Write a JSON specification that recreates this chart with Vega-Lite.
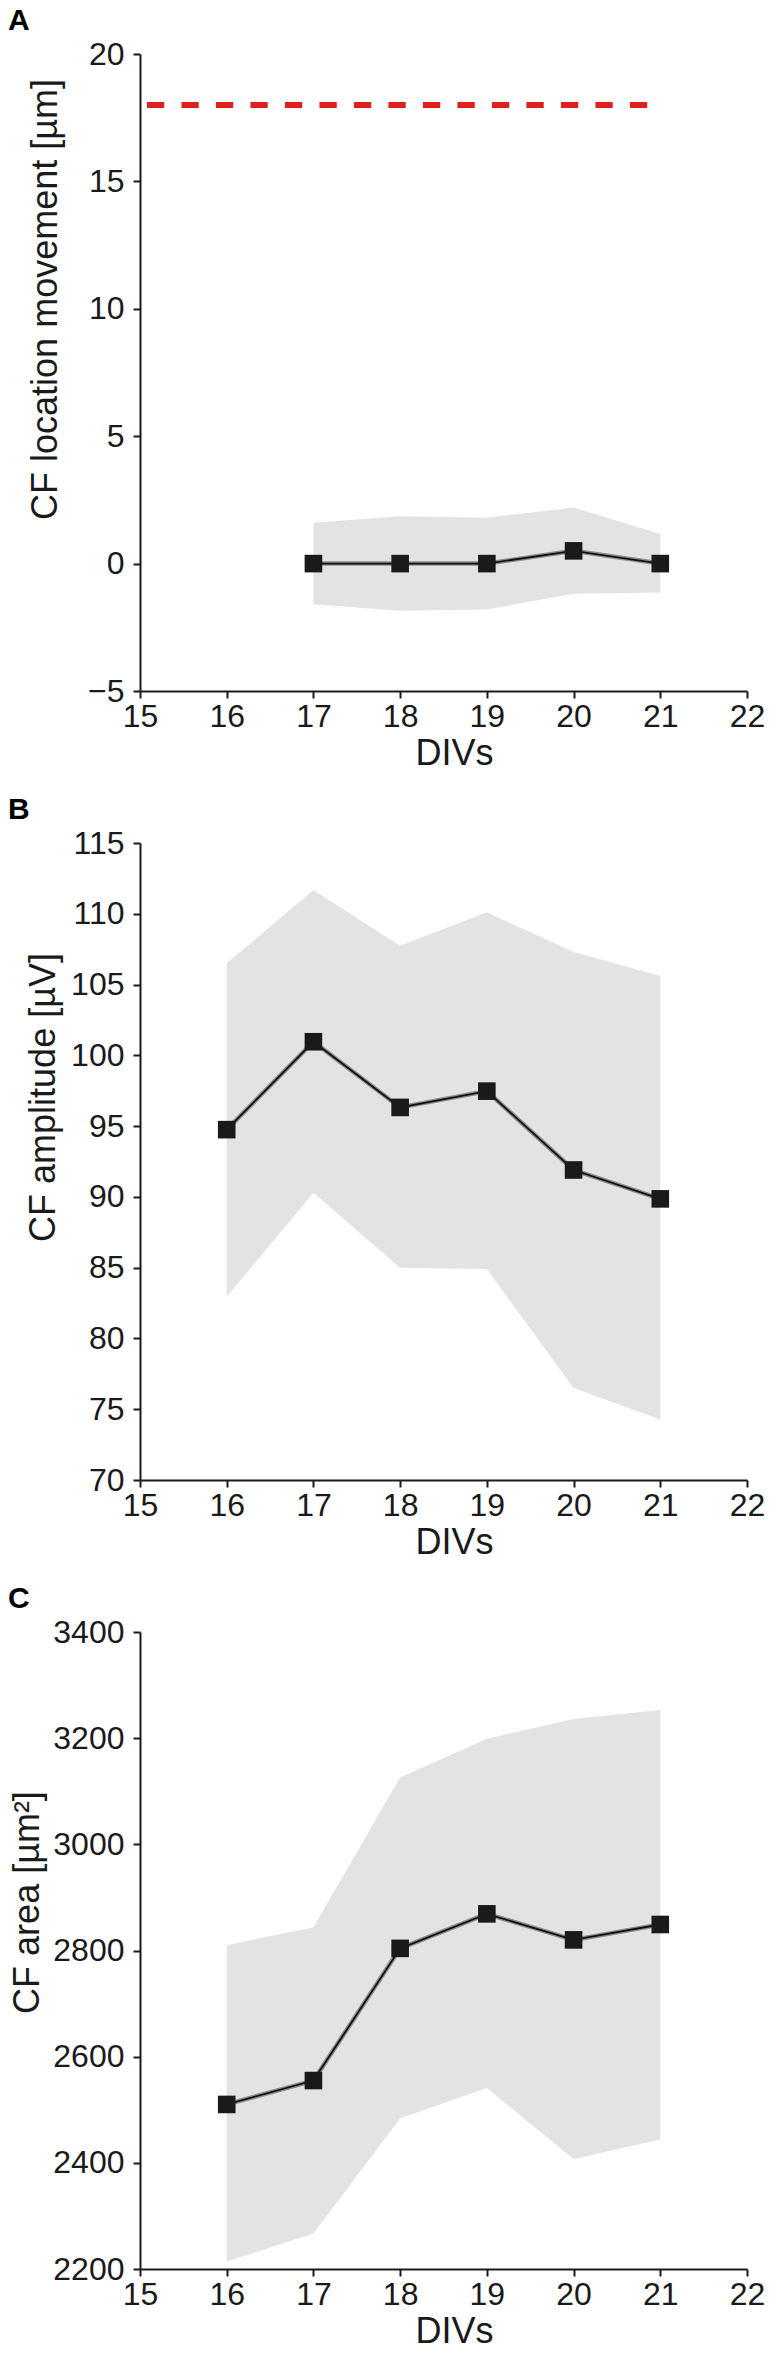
{
  "$schema": "https://vega.github.io/schema/vega-lite/v6.json",
  "background": "white",
  "padding": {"left": 8, "top": 6, "right": 0, "bottom": 0},
  "config": {
    "font": "Liberation Sans",
    "view": {"stroke": null},
    "concat": {"spacing": 24},
    "axis": {
      "grid": false,
      "domainColor": "#1a1a1a", "domainWidth": 2,
      "tickColor": "#1a1a1a", "tickWidth": 2, "tickSize": 7,
      "labelFont": "Liberation Sans", "labelFontSize": 32, "labelColor": "#1a1a1a",
      "titleFont": "Liberation Sans", "titleFontSize": 36, "titleFontWeight": "normal", "titleColor": "#1a1a1a"
    },
    "axisX": {"labelPadding": 3, "titlePadding": 4, "labelDx": 5, "titleX": 314, "labelFlush": false},
    "axisY": {"labelPadding": 9, "labelDy": -4},
    "title": {"anchor": "start", "frame": "group", "dx": -132, "fontSize": 30, "fontWeight": "bold", "font": "Liberation Sans", "color": "#000000", "offset": 2}
  },
  "datasets": {
    "A": [
      {"DIV": 17, "m": 0, "lo": -1.6, "hi": 1.6},
      {"DIV": 18, "m": 0, "lo": -1.85, "hi": 1.86},
      {"DIV": 19, "m": 0, "lo": -1.8, "hi": 1.8},
      {"DIV": 20, "m": 0.5, "lo": -1.18, "hi": 2.2},
      {"DIV": 21, "m": 0, "lo": -1.13, "hi": 1.16}
    ],
    "refA": [
      {"DIV": 15.08, "v": 18},
      {"DIV": 21, "v": 18}
    ],
    "B": [
      {"DIV": 16, "m": 94.75, "lo": 82.96, "hi": 106.5},
      {"DIV": 17, "m": 100.96, "lo": 90.29, "hi": 111.66},
      {"DIV": 18, "m": 96.32, "lo": 85.0, "hi": 107.74},
      {"DIV": 19, "m": 97.47, "lo": 84.9, "hi": 110.1},
      {"DIV": 20, "m": 91.9, "lo": 76.5, "hi": 107.3},
      {"DIV": 21, "m": 89.86, "lo": 74.27, "hi": 105.6}
    ],
    "C": [
      {"DIV": 16, "m": 2510, "lo": 2214, "hi": 2810},
      {"DIV": 17, "m": 2555, "lo": 2267, "hi": 2844},
      {"DIV": 18, "m": 2804, "lo": 2484, "hi": 3126},
      {"DIV": 19, "m": 2869, "lo": 2541, "hi": 3199},
      {"DIV": 20, "m": 2820, "lo": 2407, "hi": 3236},
      {"DIV": 21, "m": 2849, "lo": 2444, "hi": 3253}
    ]
  },
  "vconcat": [
    {
      "title": "A",
      "width": 607, "height": 637,
      "data": {"name": "A"},
      "encoding": {
        "x": {"field": "DIV", "type": "quantitative", "scale": {"domain": [15, 22], "nice": false, "zero": false}, "axis": {"title": "DIVs", "values": [15, 16, 17, 18, 19, 20, 21, 22]}},
        "y": {"field": "m", "type": "quantitative", "scale": {"domain": [-5, 20], "nice": false, "zero": false}, "axis": {"title": "CF location movement [µm]", "values": [-5, 0, 5, 10, 15, 20], "titleX": -76, "titleY": 245}}
      },
      "layer": [
        {"mark": {"type": "area", "color": "#e3e3e3"}, "encoding": {
          "y": {"field": "lo", "type": "quantitative", "scale": {"domain": [-5, 20], "nice": false, "zero": false}, "axis": {"title": "CF location movement [µm]", "values": [-5, 0, 5, 10, 15, 20], "titleX": -76, "titleY": 245}},
          "y2": {"field": "hi"}}},
        {"mark": {"type": "line", "color": "#8c8c8c", "strokeWidth": 4.5}},
        {"mark": {"type": "line", "color": "#111111", "strokeWidth": 1.8}},
        {"mark": {"type": "point", "shape": "square", "filled": true, "size": 310, "color": "#1a1a1a", "opacity": 1}},
        {"data": {"name": "refA"}, "mark": {"type": "line", "color": "#e0201e", "strokeWidth": 6, "strokeDash": [17.3, 17.2], "strokeCap": "butt"}, "encoding": {
          "y": {"field": "v", "type": "quantitative", "scale": {"domain": [-5, 20], "nice": false, "zero": false}, "axis": {"title": "CF location movement [µm]", "values": [-5, 0, 5, 10, 15, 20], "titleX": -76, "titleY": 245}}}}
      ]
    },
    {
      "title": "B",
      "width": 607, "height": 637,
      "data": {"name": "B"},
      "encoding": {
        "x": {"field": "DIV", "type": "quantitative", "scale": {"domain": [15, 22], "nice": false, "zero": false}, "axis": {"title": "DIVs", "values": [15, 16, 17, 18, 19, 20, 21, 22]}},
        "y": {"field": "m", "type": "quantitative", "scale": {"domain": [70, 115], "nice": false, "zero": false}, "axis": {"title": "CF amplitude [µV]", "values": [70, 75, 80, 85, 90, 95, 100, 105, 110, 115], "titleX": -78, "titleY": 254}}
      },
      "layer": [
        {"mark": {"type": "area", "color": "#e3e3e3"}, "encoding": {
          "y": {"field": "lo", "type": "quantitative", "scale": {"domain": [70, 115], "nice": false, "zero": false}, "axis": {"title": "CF amplitude [µV]", "values": [70, 75, 80, 85, 90, 95, 100, 105, 110, 115], "titleX": -78, "titleY": 254}},
          "y2": {"field": "hi"}}},
        {"mark": {"type": "line", "color": "#8c8c8c", "strokeWidth": 4.5}},
        {"mark": {"type": "line", "color": "#111111", "strokeWidth": 1.8}},
        {"mark": {"type": "point", "shape": "square", "filled": true, "size": 310, "color": "#1a1a1a", "opacity": 1}}
      ]
    },
    {
      "title": "C",
      "width": 607, "height": 637,
      "data": {"name": "C"},
      "encoding": {
        "x": {"field": "DIV", "type": "quantitative", "scale": {"domain": [15, 22], "nice": false, "zero": false}, "axis": {"title": "DIVs", "values": [15, 16, 17, 18, 19, 20, 21, 22]}},
        "y": {"field": "m", "type": "quantitative", "scale": {"domain": [2200, 3400], "nice": false, "zero": false}, "axis": {"title": "CF area [µm²]", "values": [2200, 2400, 2600, 2800, 3000, 3200, 3400], "format": "d", "titleX": -94, "titleY": 270}}
      },
      "layer": [
        {"mark": {"type": "area", "color": "#e3e3e3"}, "encoding": {
          "y": {"field": "lo", "type": "quantitative", "scale": {"domain": [2200, 3400], "nice": false, "zero": false}, "axis": {"title": "CF area [µm²]", "values": [2200, 2400, 2600, 2800, 3000, 3200, 3400], "format": "d", "titleX": -94, "titleY": 270}},
          "y2": {"field": "hi"}}},
        {"mark": {"type": "line", "color": "#8c8c8c", "strokeWidth": 4.5}},
        {"mark": {"type": "line", "color": "#111111", "strokeWidth": 1.8}},
        {"mark": {"type": "point", "shape": "square", "filled": true, "size": 310, "color": "#1a1a1a", "opacity": 1}}
      ]
    }
  ]
}
